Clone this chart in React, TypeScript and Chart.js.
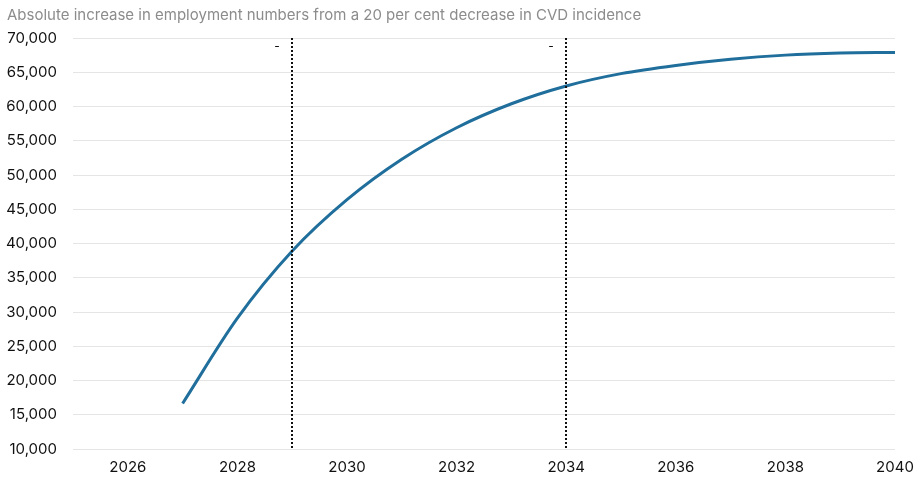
import React, { useEffect, useRef } from "react";
import { Chart, registerables } from "chart.js";

Chart.register(...registerables);

const TITLE = "Absolute increase in employment numbers from a 20 per cent decrease in CVD incidence";
const years = [2027, 2028, 2029, 2030, 2031, 2032, 2033, 2034, 2035, 2036, 2037, 2038, 2039, 2040];
const employment = [16650, 29100, 38900, 46400, 52300, 56900, 60400, 63000, 64800, 66000, 66900, 67500, 67800, 67900];
const markerYears = [2029, 2034];
const markerLabels = ["-", "-"];
const yTicks = { min: 10000, max: 70000, step: 5000 };
const xRange = { min: 2025, max: 2040 };

const FONT = "Inter, 'Noto Sans', sans-serif";

export default function App() {
  const ref = useRef<HTMLCanvasElement | null>(null);

  useEffect(() => {
    document.body.style.margin = "0";
    const canvas = ref.current;
    if (!canvas) return;

    const overlay = {
      id: "overlay",
      afterDatasetsDraw(chart: any) {
        const { ctx, chartArea, scales } = chart;
        ctx.save();
        ctx.strokeStyle = "#111";
        ctx.lineWidth = 2;
        markerYears.forEach((yr, i) => {
          const x = Math.round(scales.x.getPixelForValue(yr));
          ctx.setLineDash([2, 2]);
          ctx.beginPath();
          ctx.moveTo(x, chartArea.top);
          ctx.lineTo(x, chartArea.bottom);
          ctx.stroke();
          ctx.setLineDash([]);
          ctx.fillStyle = "#111";
          ctx.font = `12px ${FONT}`;
          ctx.textAlign = "center";
          ctx.textBaseline = "middle";
          ctx.fillText(markerLabels[i], x - 15, chartArea.top + 8);
        });
        ctx.restore();
      },
      afterDraw(chart: any) {
        const { ctx } = chart;
        ctx.save();
        ctx.fillStyle = "#8c8c8c";
        ctx.font = `15px ${FONT}`;
        ctx.textAlign = "left";
        ctx.textBaseline = "middle";
        ctx.fillText(TITLE, 7, 15);
        ctx.restore();
      },
    };

    const chart = new Chart(canvas, {
      type: "line",
      data: {
        datasets: [
          {
            data: years.map((y, i) => ({ x: y, y: employment[i] })),
            borderColor: "#1f6e9b",
            borderWidth: 3,
            pointRadius: 0,
            cubicInterpolationMode: "monotone",
            fill: false,
          },
        ],
      },
      options: {
        animation: false,
        responsive: false,
        maintainAspectRatio: false,
        layout: { padding: { top: 38, right: 22, left: 0, bottom: 0 } },
        plugins: { legend: { display: false }, tooltip: { enabled: false }, title: { display: false } },
        scales: {
          x: {
            type: "linear",
            min: xRange.min,
            max: xRange.max,
            border: { display: false },
            grid: { display: false, drawTicks: false },
            ticks: {
              stepSize: 1,
              autoSkip: false,
              maxRotation: 0,
              padding: 9,
              color: "#111",
              font: { family: FONT, size: 15 },
              callback: (v: any) => (Number(v) % 2 === 0 ? String(v) : ""),
            },
            afterFit: (s: any) => {
              s.height = 28;
              s.paddingLeft = 0;
              s.paddingRight = 0;
            },
          },
          y: {
            min: yTicks.min,
            max: yTicks.max,
            border: { display: false },
            grid: { color: "#e5e5e5", drawTicks: false, lineWidth: 1 },
            ticks: {
              stepSize: yTicks.step,
              padding: 16,
              color: "#111",
              font: { family: FONT, size: 15 },
              callback: (v: any) => Number(v).toLocaleString("en-US"),
            },
            afterFit: (s: any) => {
              s.width = 73;
              s.paddingTop = 0;
              s.paddingBottom = 0;
            },
          },
        },
      },
      plugins: [overlay],
    });

    return () => chart.destroy();
  }, []);

  return <canvas ref={ref} width={917} height={477} style={{ display: "block" }} />;
}
